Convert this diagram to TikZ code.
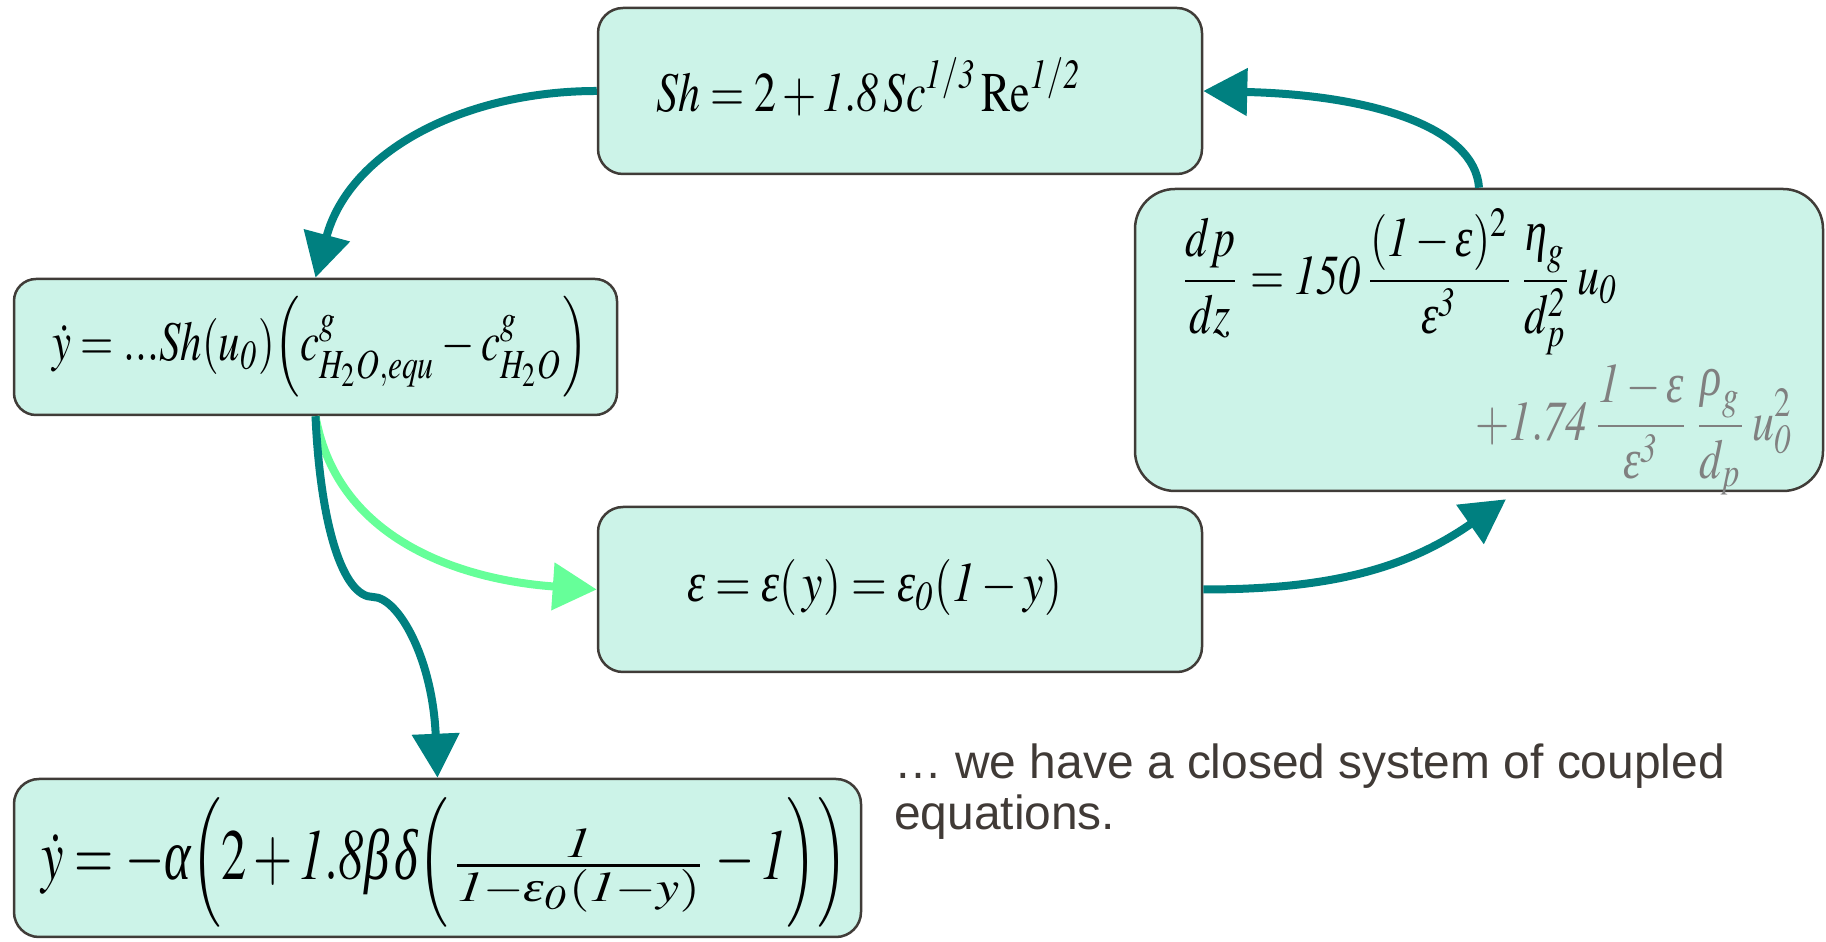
\documentclass[tikz,border=0pt]{standalone}
\usepackage{amsmath}
\usepackage{mathptmx}
\usepackage{fontspec}
\setmainfont{Liberation Serif}
\setsansfont{Liberation Sans}
\usepackage{graphicx}
\usetikzlibrary{arrows.meta,calc}
\definecolor{CSfill}{RGB}{204,243,232}
\definecolor{CSedge}{RGB}{64,60,56}
\definecolor{CSteal}{RGB}{0,128,128}
\definecolor{CSlime}{RGB}{102,255,153}
\definecolor{CSgrey}{RGB}{128,128,128}
\definecolor{CStext}{RGB}{64,58,54}
\newcommand{\CSeq}[3]{\scalebox{#1}[#2]{$\displaystyle #3$}}
\newcommand{\ieps}{\text{\itshape ε}}
\newcommand{\ieta}{\text{\itshape η}}
\newcommand{\irho}{\text{\itshape ρ}}
\newcommand{\ialpha}{\text{\itshape α}}
\newcommand{\ibeta}{\text{\itshape β}}
\newcommand{\idelta}{\text{\itshape δ}}
\tikzset{CSbox/.style={draw=CSedge,line width=2.5pt,fill=CSfill,rounded corners=25pt,inner sep=0pt},
         CSarr/.style={line width=8pt,draw=CSteal,-{Triangle[length=44pt,width=46pt]}},
         CSlab/.style={inner sep=0pt}}

\begin{document}
\begin{tikzpicture}[x=1pt,y=1pt]
  \useasboundingbox (0,0) rectangle (1826,942);
  % boxes
  \node[CSbox,minimum width=604pt,minimum height=166pt] (sh) at (900,851) {};
  \node[CSbox,minimum width=688pt,minimum height=302pt,rounded corners=40pt] (dp) at (1479,602) {};
  \node[CSbox,minimum width=603pt,minimum height=136pt,rounded corners=22pt] (ydot) at (315.5,595) {};
  \node[CSbox,minimum width=604pt,minimum height=165pt] (eps) at (900,352.5) {};
  \node[CSbox,minimum width=847pt,minimum height=158pt] (bot) at (437.5,84) {};
  % equations
  \node[CSlab,anchor=west] (sheq) at (656,855)
    {\CSeq{4.4}{5.6}{Sh = 2 + \mathit{1.8}\,Sc^{\mathit{1/3}}\,\mathrm{Re}^{\mathit{1/2}}}};
  \node[CSlab,anchor=west] (ydoteq) at (52,595)
    {\CSeq{4.28}{5.6}{\dot y = ...Sh(u_{\mathit{0}})\Bigl(c^{g}_{H_{2}O,equ} - c^{g}_{H_{2}O}\Bigr)}};
  \node[CSlab,anchor=west] (epseq) at (687,354)
    {\CSeq{4.6}{5.6}{\ieps = \ieps(\,y) = \ieps_{\mathit{0}}(\mathit{1} - y)}};
  \node[CSlab,anchor=west] (dpeq) at (1180,660)
    {\CSeq{4.4}{5.6}{\frac{dp}{dz} = \mathit{150}\,\frac{(\mathit{1}-\ieps)^{2}}{\ieps^{\mathit{3}}}\,\frac{\ieta_{g}}{d_{p}^{\mathit{2}}}\,u_{\mathit{0}}}};
  \node[CSlab,anchor=east,text=CSgrey] (dpeqb) at (1793,512)
    {\CSeq{4.4}{5.6}{+\mathit{1.74}\,\frac{\mathit{1}-\ieps}{\ieps^{\mathit{3}}}\,\frac{\irho_{g}}{d_{p}}\,u_{\mathit{0}}^{2}}};
  \node[CSlab,anchor=west] (boteq) at (41,80)
    {\CSeq{5.05}{7.2}{\dot y = -\ialpha\Bigl(2 + \mathit{1.8}\ibeta\,\idelta\Bigl(\mbox{\scalebox{1.4}[0.8]{$\frac{\mathit{1}}{\mathit{1}-\ieps_{\mathit{0}}(\mathit{1}-y)}$}} - \mathit{1}\Bigr)\Bigr)}};
  \node[CSlab,anchor=north west,align=left,text=CStext,font=\sffamily\fontsize{47.9}{51}\selectfont] (note) at (894,198)
    {… we have a closed system of coupled\\equations.};
  % connectors
  \coordinate (kink) at (373,345);
  \draw[CSarr] (sh.west) to[out=180,in=75] (ydot.north);
  \draw[CSarr] (dp.north) .. controls +(-4,60) and +(170,-4) .. (sh.east);
  \draw[CSarr] (eps.east) to[out=0,in=215] ($(dp.south)+(27,-7)$);
  \draw[CSarr,draw=CSlime] (ydot.south) to[out=-80,in=176] (eps.west);
  \draw[CSarr] (ydot.south) .. controls +(5,-110) and +(-30,0) .. (kink)
    .. controls +(25,0) and +(-5,120) .. (bot.north);
\end{tikzpicture}
\end{document}
